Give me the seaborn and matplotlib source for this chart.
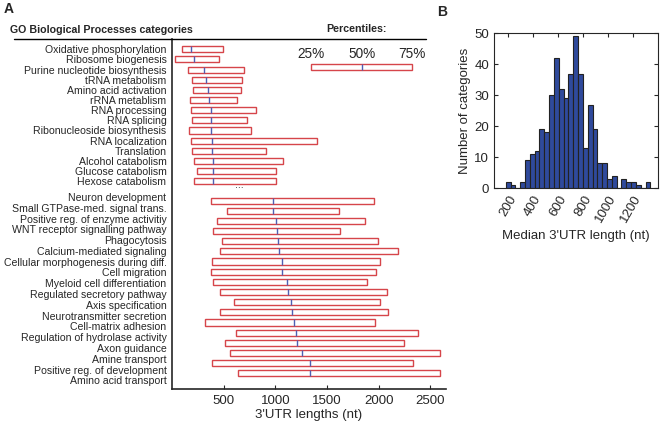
import numpy as np
import pandas as pd
import matplotlib.pyplot as plt
from matplotlib.lines import Line2D
import seaborn as sns

# GO categories with 3'UTR length percentiles (25%, median, 75%)
group1 = ["Oxidative phosphorylation", "Ribosome biogenesis", "Purine nucleotide biosynthesis",
          "tRNA metabolism", "Amino acid activation", "rRNA metablism", "RNA processing",
          "RNA splicing", "Ribonucleoside biosynthesis", "RNA localization", "Translation",
          "Alcohol catabolism", "Glucose catabolism", "Hexose catabolism"]
q1_g1 = [98, 27, 153, 191, 205, 172, 185, 191, 166, 181, 191, 210, 246, 210]
med_g1 = [185, 210, 314, 330, 349, 355, 375, 375, 378, 388, 391, 397, 397, 397]
q3_g1 = [494, 459, 700, 674, 671, 625, 813, 722, 761, 1407, 905, 1069, 1006, 1006]

group2 = ["Neuron development", "Small GTPase-med. signal trans.", "Positive reg. of enzyme activitiy",
          "WNT receptor signalling pathway", "Phagocytosis", "Calcium-mediated signaling",
          "Cellular morphogenesis during diff.", "Cell migration", "Myeloid cell differentiation",
          "Regulated secretory pathway", "Axis specification", "Neurotransmitter secretion",
          "Cell-matrix adhesion", "Regulation of hydrolase activity", "Axon guidance",
          "Amine transport", "Positive reg. of development", "Amino acid transport"]
q1_g2 = [381, 536, 436, 401, 485, 465, 391, 381, 398, 461, 597, 461, 320, 623, 514, 558, 388, 639]
med_g2 = [973, 980, 1006, 1012, 1021, 1035, 1060, 1060, 1108, 1118, 1147, 1163, 1182, 1199, 1205,
          1260, 1334, 1334]
q3_g2 = [1958, 1614, 1865, 1629, 1996, 2186, 2015, 1977, 1890, 2083, 2010, 2093, 1967, 2382, 2241,
         2589, 2328, 2595]

# legend box values
legend_pct = [1347, 1839, 2321]
legend_txt = ["25%", "50%", "75%"]

# histogram of median 3'UTR length per category
hist_start = 179
hist_width = 38.6
hist_counts = [2, 1, 0, 2, 9, 11, 12, 19, 18, 30, 42, 32, 29, 37, 49, 37, 13, 27, 19, 8, 8, 3, 4,
               0, 3, 2, 2, 1, 0, 2]

sns.set_style("ticks")
plt.rcParams["font.family"] = ["Liberation Sans", "DejaVu Sans"]

df = pd.DataFrame({
    "cat": group1 + group2,
    "q1": q1_g1 + q1_g2,
    "med": med_g1 + med_g2,
    "q3": q3_g1 + q3_g2,
})
df["pos"] = list(np.arange(len(group1))) + list(14.9 + np.arange(len(group2)))
label_pos = list(np.arange(len(group1))) + list(14.54 + 1.063 * np.arange(len(group2)))

fig = plt.figure(figsize=(6.62, 4.26), dpi=100)

# panel A
ax = fig.add_axes([0.2598, 0.0869, 0.4139, 0.8216])
box_red = "#d6454a"
med_blue = "#4f5fb3"
ax.barh(df["pos"], df["q3"] - df["q1"], left=df["q1"], height=0.6,
        facecolor="white", edgecolor=box_red, linewidth=1.0)
ax.vlines(df["med"], df["pos"] - 0.3, df["pos"] + 0.3, color=med_blue, linewidth=1.0)

# percentile key
ax.barh([1.74], [legend_pct[2] - legend_pct[0]], left=legend_pct[0], height=0.6,
        facecolor="white", edgecolor=box_red, linewidth=1.0)
ax.vlines([legend_pct[1]], 1.44, 2.04, color=med_blue, linewidth=1.0)
for v, t in zip(legend_pct, legend_txt):
    ax.text(v, 0.5, t, ha="center", va="center", fontsize=9.8)
ax.text(650, 13.65, "...", ha="center", va="baseline", fontsize=7.5)

ax.set_xlim(0, 2650)
ax.set_ylim(33.45, -1.01)
ax.set_yticks(label_pos)
ax.set_yticklabels(df["cat"], fontsize=7.6)
ax.set_xticks([500, 1000, 1500, 2000, 2500])
ax.tick_params(axis="x", direction="in", length=3, labelsize=9.5, pad=4)
ax.tick_params(axis="y", length=0, pad=4)
ax.set_xlabel("3'UTR lengths (nt)", fontsize=9.5, labelpad=2)
sns.despine(ax=ax)
for s in ["left", "bottom"]:
    ax.spines[s].set_linewidth(1.2)

fig.add_artist(Line2D([14 / 662, 426 / 662], [1 - 38.5 / 426] * 2, color="black", lw=1.0))
fig.text(0.006, 0.979, "A", fontsize=10, fontweight="bold", va="center", ha="left")
fig.text(10 / 662, 1 - 30 / 426, "GO Biological Processes categories", fontsize=7.7,
         fontweight="bold", va="center", ha="left")
fig.text(387 / 662, 1 - 29 / 426, "Percentiles:", fontsize=7.7, fontweight="bold",
         va="center", ha="right")
fig.text(437 / 662, 1 - 12 / 426, "B", fontsize=10, fontweight="bold", va="center", ha="left")

# panel B
ax2 = fig.add_axes([0.7462, 0.558, 0.2482, 0.3638])
n_bins = len(hist_counts)
hist_df = pd.DataFrame({
    "len": hist_start + hist_width * (np.arange(n_bins) + 0.5),
    "n": hist_counts,
})
sns.histplot(data=hist_df, x="len", weights="n", binwidth=hist_width,
             binrange=(hist_start, hist_start + hist_width * n_bins),
             color="#2f4a9c", edgecolor="#222222", linewidth=0.8, alpha=1, ax=ax2)
ax2.set_xlim(85, 1400)
ax2.set_ylim(0, 50)
ax2.set_xticks([200, 400, 600, 800, 1000, 1200])
ax2.set_yticks([0, 10, 20, 30, 40, 50])
ax2.tick_params(direction="in", length=3, top=True, right=True, labelsize=9.5)
for lab in ax2.get_xticklabels():
    lab.set_rotation(60)
    lab.set_ha("right")
    lab.set_rotation_mode("anchor")
ax2.set_xlabel("Median 3'UTR length (nt)", fontsize=9.5)
ax2.set_ylabel("Number of categories", fontsize=9.5, labelpad=2)

fig.savefig("out.png", dpi=100)
